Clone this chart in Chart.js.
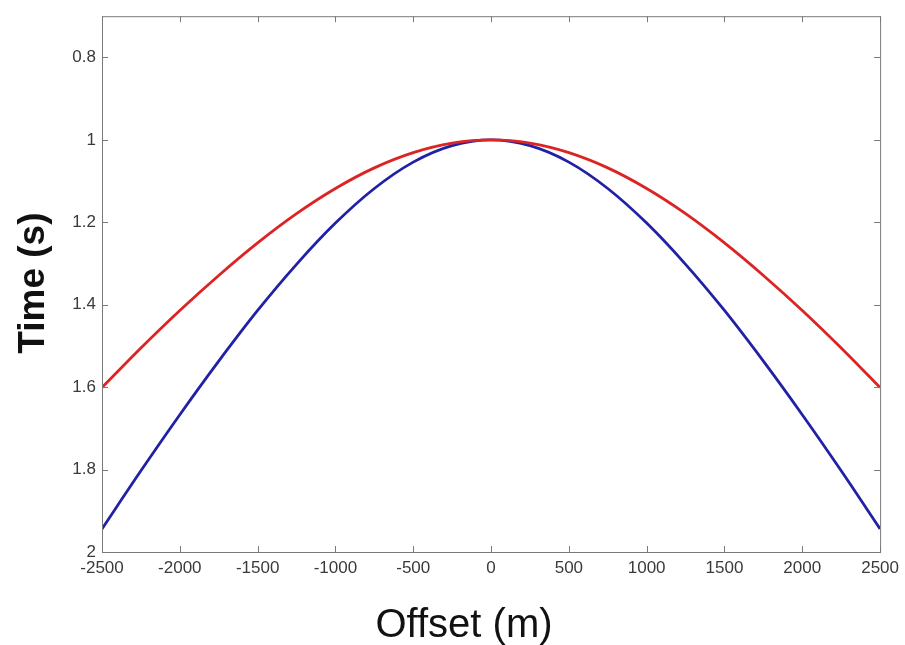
<!DOCTYPE html>
<html>
<head>
<meta charset="utf-8">
<title>Offset vs Time</title>
<script src="https://cdn.jsdelivr.net/npm/chart.js@4/dist/chart.umd.min.js"></script>
<style>
  html, body { margin: 0; padding: 0; background: #fff; }
  #wrap { width: 905px; height: 645px; }
</style>
</head>
<body>
<div id="wrap"><canvas id="hyperbola" width="905" height="645"></canvas></div>
<script>
// ---- data ----
const offsets = [-2500, -2250, -2000, -1750, -1500, -1250, -1000, -750, -500, -250, 0,
                 250, 500, 750, 1000, 1250, 1500, 1750, 2000, 2250, 2500];
const redTime = [1.601, 1.505, 1.414, 1.329, 1.250, 1.179, 1.118, 1.068, 1.031, 1.008, 1.000,
                 1.008, 1.031, 1.068, 1.118, 1.179, 1.250, 1.329, 1.414, 1.505, 1.601];
const blueTime = [1.944, 1.803, 1.667, 1.537, 1.414, 1.302, 1.202, 1.118, 1.054, 1.014, 1.000,
                  1.014, 1.054, 1.118, 1.202, 1.302, 1.414, 1.537, 1.667, 1.803, 1.944];
const xTicks = [-2500, -2000, -1500, -1000, -500, 0, 500, 1000, 1500, 2000, 2500];
const yTicks = [0.8, 1, 1.2, 1.4, 1.6, 1.8, 2];

const toPoints = (ys) => offsets.map((x, i) => ({ x: x, y: ys[i] }));

// box around the axes + inward ticks on every side, matlab style
const boxPlugin = {
  id: 'axesBox',
  afterDraw(chart) {
    const { ctx, chartArea: a, scales } = chart;
    const len = 6;
    ctx.save();
    ctx.strokeStyle = '#7a7a7a';
    ctx.lineWidth = 1;
    ctx.strokeRect(a.left + 0.5, a.top + 0.5, a.right - a.left, a.bottom - a.top);
    ctx.beginPath();
    xTicks.forEach(v => {
      const px = Math.round(scales.x.getPixelForValue(v)) + 0.5;
      ctx.moveTo(px, a.bottom); ctx.lineTo(px, a.bottom - len);
      ctx.moveTo(px, a.top); ctx.lineTo(px, a.top + len);
    });
    yTicks.forEach(v => {
      const py = Math.round(scales.y.getPixelForValue(v)) + 0.5;
      ctx.moveTo(a.left, py); ctx.lineTo(a.left + len, py);
      ctx.moveTo(a.right, py); ctx.lineTo(a.right - len, py);
    });
    ctx.stroke();

    // axis titles
    ctx.fillStyle = '#111';
    ctx.textAlign = 'center';
    ctx.textBaseline = 'alphabetic';
    ctx.font = '40px "Liberation Sans", Arial, sans-serif';
    ctx.fillText('Offset (m)', 464, 637);

    ctx.translate(44, (a.top + a.bottom) / 2 - 1);
    ctx.rotate(-Math.PI / 2);
    ctx.font = 'bold 37px "Liberation Sans", Arial, sans-serif';
    ctx.fillText('Time (s)', 0, 0);
    ctx.restore();
  }
};

const tickFont = { family: '"Liberation Sans", Arial, sans-serif', size: 17 };

new Chart(document.getElementById('hyperbola').getContext('2d'), {
  type: 'line',
  data: {
    datasets: [
      {
        label: 'red',
        data: toPoints(redTime),
        borderColor: '#dc2424',
        borderWidth: 2.8,
        pointRadius: 0,
        cubicInterpolationMode: 'monotone',
        fill: false
      },
      {
        label: 'blue',
        data: toPoints(blueTime),
        borderColor: '#2121a6',
        borderWidth: 2.8,
        pointRadius: 0,
        cubicInterpolationMode: 'monotone',
        fill: false
      }
    ]
  },
  options: {
    responsive: false,
    animation: false,
    layout: { padding: { top: 12, right: 22, left: 0, bottom: 0 } },
    plugins: {
      legend: { display: false },
      tooltip: { enabled: false }
    },
    scales: {
      x: {
        type: 'linear',
        min: -2500,
        max: 2500,
        afterBuildTicks: (s) => { s.ticks = xTicks.map(v => ({ value: v })); },
        afterFit: (s) => { s.height = 93; },
        grid: { display: false, drawTicks: false },
        border: { display: false },
        ticks: {
          color: '#3a3a3a',
          font: tickFont,
          padding: 6,
          maxRotation: 0,
          autoSkip: false,
          callback: (v) => String(v)
        }
      },
      y: {
        type: 'linear',
        reverse: true,
        min: 0.7,
        max: 2,
        afterBuildTicks: (s) => { s.ticks = yTicks.map(v => ({ value: v })); },
        afterFit: (s) => { s.width = 102; },
        grid: { display: false, drawTicks: false },
        border: { display: false },
        ticks: {
          color: '#3a3a3a',
          font: tickFont,
          padding: 6,
          autoSkip: false,
          callback: (v) => String(Math.round(v * 10) / 10)
        }
      }
    }
  },
  plugins: [boxPlugin]
});
</script>
</body>
</html>
